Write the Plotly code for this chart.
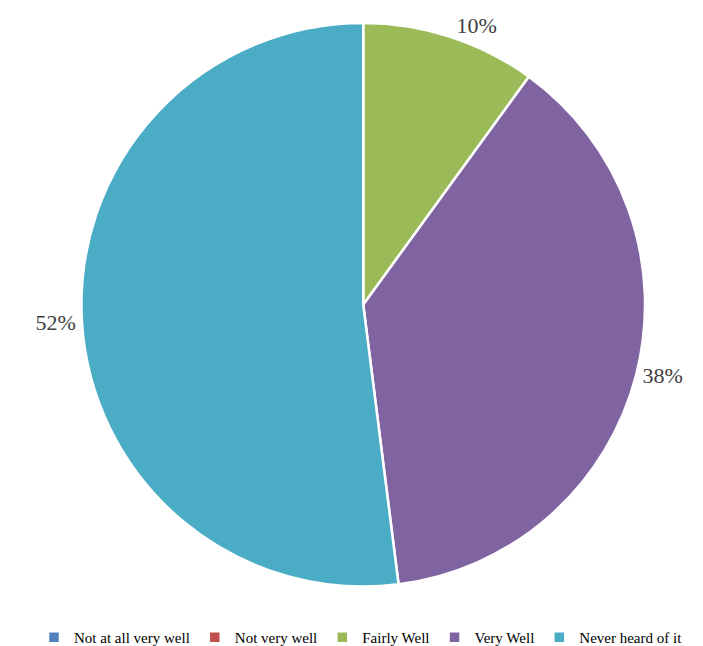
import plotly.graph_objects as go

labels = ["Not at all very well", "Not very well", "Fairly Well", "Very Well", "Never heard of it"]
values = [0, 0, 10, 38, 52]
colors = ["#4F81BD", "#C0504D", "#9BBB59", "#8064A2", "#4BACC6"]

# only non-zero slices get a label
texts = [f"{v}%" if v > 0 else "" for v in values]

fig = go.Figure(go.Pie(
    labels=labels,
    values=values,
    text=texts,
    textinfo="text",
    textposition="outside",
    sort=False,
    direction="clockwise",
    rotation=0,
    marker=dict(colors=colors, line=dict(color="white", width=2.5)),
    outsidetextfont=dict(family="Liberation Serif", size=22, color="#404040"),
    domain=dict(x=[0.0414, 0.9654], y=[0.105, 0.9815]),
    hoverinfo="label+percent",
))

fig.update_layout(
    width=703,
    height=646,
    font=dict(family="Liberation Serif", size=15, color="#000000"),
    paper_bgcolor="white",
    margin=dict(l=0, r=0, t=0, b=0),
    showlegend=True,
    legend=dict(orientation="h", x=0.5, xanchor="center", y=0.0, yanchor="bottom",
                font=dict(size=15), itemwidth=30),
)

fig.write_html("out.html")
